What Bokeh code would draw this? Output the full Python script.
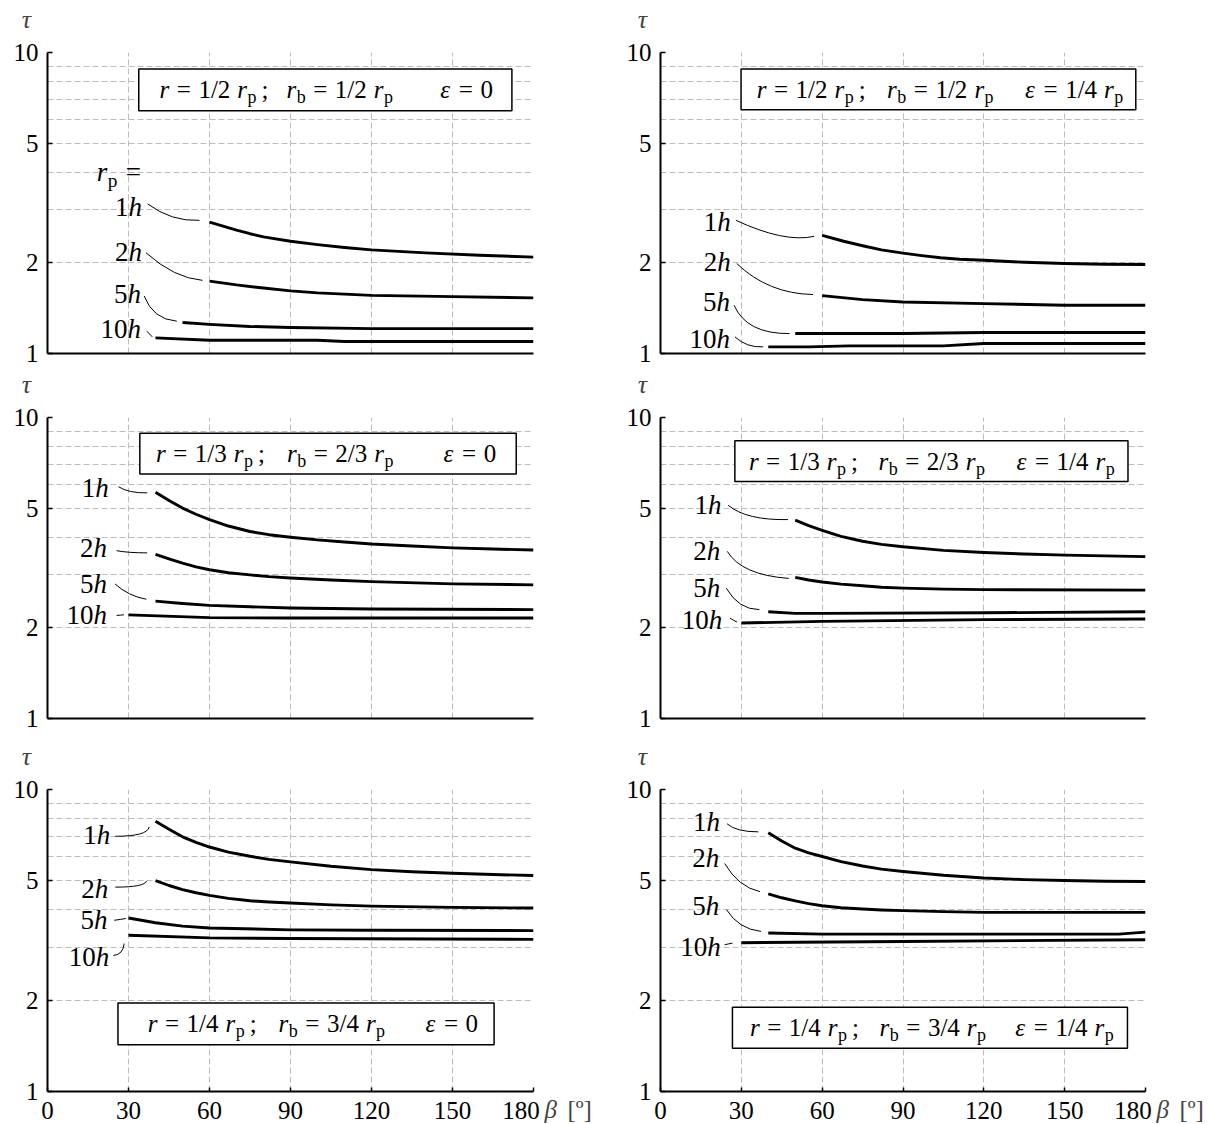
from bokeh.plotting import figure
from bokeh.layouts import column, row
from bokeh.models import Range1d, FixedTicker, NumeralTickFormatter, ColumnDataSource, Label
from bokeh.core.properties import value, field
from bokeh.embed import file_html
from bokeh.resources import INLINE

FONT = "Liberation Serif"

# ---------------------------------------------------------------- data
# tau(beta) for r_p = 1h, 2h, 5h, 10h ; beta in degrees
# r = 1/2 rp ; rb = 1/2 rp ; eps = 0
A_BETA_1H = [60, 65, 70, 75, 80, 90, 100, 110, 120, 140, 160, 180]
A_TAU_1H = [2.73, 2.65, 2.57, 2.50, 2.44, 2.36, 2.30, 2.25, 2.21, 2.16, 2.12, 2.09]
A_BETA_2H = [60, 70, 80, 90, 100, 110, 120, 150, 180]
A_TAU_2H = [1.74, 1.69, 1.65, 1.615, 1.59, 1.575, 1.56, 1.545, 1.53]
A_BETA_5H = [50, 60, 75, 90, 120, 180]
A_TAU_5H = [1.267, 1.25, 1.23, 1.22, 1.21, 1.21]
A_BETA_10H = [40, 60, 100, 110, 180]
A_TAU_10H = [1.127, 1.107, 1.107, 1.096, 1.096]

# r = 1/2 rp ; rb = 1/2 rp ; eps = 1/4 rp
B_BETA_1H = [60, 68, 75, 82, 90, 97, 104, 111, 120, 135, 150, 165, 180]
B_TAU_1H = [2.47, 2.36, 2.28, 2.21, 2.155, 2.115, 2.08, 2.057, 2.04, 2.01, 1.99, 1.98, 1.976]
B_BETA_2H = [60, 75, 90, 120, 150, 180]
B_TAU_2H = [1.557, 1.51, 1.483, 1.465, 1.446, 1.446]
B_BETA_5H = [50, 90, 120, 180]
B_TAU_5H = [1.165, 1.165, 1.174, 1.174]
B_BETA_10H = [40, 55, 70, 105, 120, 180]
B_TAU_10H = [1.052, 1.052, 1.06, 1.06, 1.079, 1.079]

# r = 1/3 rp ; rb = 2/3 rp ; eps = 0
C_BETA_1H = [40, 45, 50, 55, 60, 67, 75, 82, 90, 100, 110, 120, 135, 150, 165, 180]
C_TAU_1H = [5.64, 5.30, 5.0, 4.77, 4.58, 4.36, 4.18, 4.08, 4.0, 3.92, 3.86, 3.80, 3.74, 3.69, 3.655, 3.63]
C_BETA_2H = [40, 45, 50, 55, 60, 67, 75, 82, 90, 105, 120, 150, 180]
C_TAU_2H = [3.51, 3.39, 3.28, 3.19, 3.12, 3.05, 3.0, 2.96, 2.93, 2.885, 2.85, 2.80, 2.78]
C_BETA_5H = [40, 50, 60, 75, 90, 120, 180]
C_TAU_5H = [2.455, 2.41, 2.376, 2.35, 2.33, 2.31, 2.30]
C_BETA_10H = [30, 60, 90, 180]
C_TAU_10H = [2.21, 2.163, 2.157, 2.157]

# r = 1/3 rp ; rb = 2/3 rp ; eps = 1/4 rp
D_BETA_1H = [50, 55, 60, 67, 75, 82, 90, 105, 120, 135, 150, 165, 180]
D_TAU_1H = [4.56, 4.37, 4.22, 4.03, 3.88, 3.79, 3.72, 3.62, 3.56, 3.52, 3.49, 3.47, 3.45]
D_BETA_2H = [50, 55, 60, 67, 75, 82, 90, 105, 120, 180]
D_TAU_2H = [2.945, 2.885, 2.84, 2.795, 2.76, 2.73, 2.71, 2.69, 2.68, 2.67]
D_BETA_5H = [40, 50, 60, 120, 180]
D_TAU_5H = [2.263, 2.235, 2.235, 2.245, 2.263]
D_BETA_10H = [30, 60, 120, 180]
D_TAU_10H = [2.076, 2.102, 2.13, 2.14]

# r = 1/4 rp ; rb = 3/4 rp ; eps = 0
E_BETA_1H = [40, 45, 50, 55, 60, 67, 75, 82, 90, 105, 120, 135, 150, 165, 180]
E_TAU_1H = [7.85, 7.38, 6.97, 6.68, 6.45, 6.20, 6.01, 5.87, 5.76, 5.57, 5.43, 5.34, 5.28, 5.23, 5.19]
E_BETA_2H = [40, 45, 50, 55, 60, 67, 75, 82, 90, 105, 120, 150, 180]
E_TAU_2H = [4.99, 4.81, 4.66, 4.55, 4.46, 4.36, 4.28, 4.24, 4.21, 4.15, 4.11, 4.07, 4.05]
E_BETA_5H = [30, 40, 50, 60, 90, 120, 180]
E_TAU_5H = [3.755, 3.62, 3.53, 3.48, 3.43, 3.42, 3.41]
E_BETA_10H = [30, 60, 90, 180]
E_TAU_10H = [3.29, 3.225, 3.21, 3.19]

# r = 1/4 rp ; rb = 3/4 rp ; eps = 1/4 rp
F_BETA_1H = [40, 45, 50, 55, 60, 67, 75, 82, 90, 105, 120, 135, 150, 165, 180]
F_TAU_1H = [7.19, 6.75, 6.39, 6.17, 6.0, 5.77, 5.58, 5.45, 5.35, 5.2, 5.09, 5.03, 4.995, 4.97, 4.96]
F_BETA_2H = [40, 45, 50, 55, 60, 67, 75, 82, 90, 105, 120, 180]
F_TAU_2H = [4.51, 4.38, 4.28, 4.19, 4.12, 4.06, 4.02, 3.99, 3.97, 3.94, 3.92, 3.92]
F_BETA_5H = [40, 60, 170, 180]
F_TAU_5H = [3.35, 3.32, 3.32, 3.37]
F_BETA_10H = [30, 90, 180]
F_TAU_10H = [3.11, 3.14, 3.18]

CURVE_NAMES = ["1", "2", "5", "10"]
BETA_TICKS = [0, 30, 60, 90, 120, 150, 180]
TAU_TICKS = [1, 2, 5, 10]
TAU_GRID = [2, 3, 4, 5, 6, 7, 8, 9, 10]

# ---------------------------------------------------------------- annotation layout
# labels: (right edge beta, tau); leaders: (x0, y0, x1, y1, cx, cy)
PANELS = [
    dict(curves=[(A_BETA_1H, A_TAU_1H), (A_BETA_2H, A_TAU_2H), (A_BETA_5H, A_TAU_5H), (A_BETA_10H, A_TAU_10H)],
         labels=[(35.0, 3.06), (35.0, 2.17), (34.6, 1.58), (34.6, 1.21)],
         leaders=[(37.1, 3.14, 56.3, 2.77, 46, 2.74), (36.5, 2.16, 57.4, 1.75, 47, 1.78),
                  (35.8, 1.553, 47.9, 1.28, 39, 1.30), (36.8, 1.186, 38.8, 1.136, 37.8, 1.16)],
         rp_label=(34.6, 4.0),
         box=(33.8, 172.0, 6.41, 8.81), groups=(41.5, 88.5, 145.5),
         fr=("1/2", "1/2", "0")),
    dict(curves=[(B_BETA_1H, B_TAU_1H), (B_BETA_2H, B_TAU_2H), (B_BETA_5H, B_TAU_5H), (B_BETA_10H, B_TAU_10H)],
         labels=[(26.1, 2.73), (26.1, 2.01), (25.8, 1.48), (25.8, 1.12)],
         leaders=[(28.0, 2.77, 57.0, 2.45, 46, 2.33), (28.3, 1.99, 56.6, 1.57, 40, 1.58),
                  (27.3, 1.446, 47.9, 1.165, 32, 1.16), (27.6, 1.136, 38.1, 1.052, 32, 1.045)],
         rp_label=None,
         box=(29.9, 176.4, 6.45, 8.81), groups=(35.7, 84.1, 135.3),
         fr=("1/2", "1/2", "1/4")),
    dict(curves=[(C_BETA_1H, C_TAU_1H), (C_BETA_2H, C_TAU_2H), (C_BETA_5H, C_TAU_5H), (C_BETA_10H, C_TAU_10H)],
         labels=[(22.7, 5.85), (22.0, 3.68), (22.0, 2.80), (22.0, 2.20)],
         leaders=[(26.3, 5.89, 36.9, 5.62, 30, 5.6), (25.6, 3.61, 36.9, 3.55, 30, 3.55),
                  (25.0, 2.80, 36.6, 2.49, 30, 2.55), (25.6, 2.20, 28.3, 2.21, 27, 2.205)],
         rp_label=None,
         box=(34.2, 173.6, 6.49, 8.87), groups=(40.2, 88.7, 146.7),
         fr=("1/3", "2/3", "0")),
    dict(curves=[(D_BETA_1H, D_TAU_1H), (D_BETA_2H, D_TAU_2H), (D_BETA_5H, D_TAU_5H), (D_BETA_10H, D_TAU_10H)],
         labels=[(22.6, 5.11), (22.2, 3.59), (22.2, 2.71), (22.9, 2.13)],
         leaders=[(25.1, 5.11, 47.3, 4.58, 32, 4.55), (24.8, 3.59, 47.6, 2.92, 30, 3.0),
                  (24.4, 2.71, 36.7, 2.30, 29, 2.30), (25.8, 2.155, 28.4, 2.09, 27, 2.12)],
         rp_label=None,
         box=(27.6, 173.5, 6.13, 8.37), groups=(32.8, 80.9, 132.1),
         fr=("1/3", "2/3", "1/4")),
    dict(curves=[(E_BETA_1H, E_TAU_1H), (E_BETA_2H, E_TAU_2H), (E_BETA_5H, E_TAU_5H), (E_BETA_10H, E_TAU_10H)],
         labels=[(23.2, 7.09), (22.5, 4.67), (22.2, 3.71), (22.9, 2.79)],
         leaders=[(25.1, 7.0, 37.7, 7.52, 37, 7.0), (25.1, 4.75, 36.7, 4.98, 36, 4.75),
                  (24.7, 3.69, 29.0, 3.74, 27, 3.71), (24.4, 2.82, 28.4, 3.09, 28, 2.84)],
         rp_label=None,
         box=(26.1, 165.4, 1.428, 1.963), groups=(37.1, 85.6, 140.0),
         fr=("1/4", "3/4", "0")),
    dict(curves=[(F_BETA_1H, F_TAU_1H), (F_BETA_2H, F_TAU_2H), (F_BETA_5H, F_TAU_5H), (F_BETA_10H, F_TAU_10H)],
         labels=[(22.1, 7.78), (21.8, 5.92), (21.8, 4.10), (22.4, 3.02)],
         leaders=[(24.7, 7.7, 36.3, 7.24, 28, 7.24), (23.8, 5.69, 36.9, 4.59, 29, 4.75),
                  (24.5, 4.0, 37.3, 3.39, 29, 3.45), (23.8, 3.06, 26.7, 3.10, 25, 3.08)],
         rp_label=None,
         box=(26.7, 173.3, 1.39, 1.90), groups=(33.2, 81.3, 131.7),
         fr=("1/4", "3/4", "1/4")),
]

# advance widths (em) of the serif face
ROMAN_W = {' ': .25, '/': .278, '=': .564, ';': .278, 'p': .5, 'b': .5, 'h': .5, '[': .333, ']': .333}
ITALIC_W = {'r': .389, 'h': .5, 'ε': .44, 'τ': .44, 'β': .5}


def char_w(c, kind):
    if kind == "i":
        return ITALIC_W.get(c, .5)
    return ROMAN_W.get(c, .5)


def run_layout(tokens, size):
    """Place a run of (text, kind) tokens; kind: n roman, i italic, s subscript."""
    out, x, prev = [], 0.0, None
    for text, kind in tokens:
        if prev is not None:
            if kind == "s":
                gap = 0.02
            elif text == "h":
                gap = 0.0
            elif text == "=" or prev == "=":
                gap = 0.3
            elif text == ";":
                gap = 0.2
            else:
                gap = 0.28
            x += gap * size
        fs = size * 0.72 if kind == "s" else size
        dy = 0.30 * size if kind == "s" else 0.0
        out.append((text, "italic" if kind == "i" else "normal", fs, x, dy))
        x += sum(char_w(c, kind) for c in text) * fs
        prev = text
    return out, x


def add_run(rows, x, y, tokens, size, align="left"):
    items, total = run_layout(tokens, size)
    shift = -total if align == "right" else 0.0
    for text, style, fs, dx, dy in items:
        rows["x"].append(x)
        rows["y"].append(y)
        rows["text"].append(text)
        rows["style"].append(style)
        rows["fs"].append(f"{fs:.1f}px")
        rows["dx"].append(dx + shift)
        rows["dy"].append(dy)


def make_panel(spec, col, rowi):
    bottom_row = rowi == 2
    frame_h = 302 if bottom_row else 301
    p = figure(frame_width=486 if col == 0 else 485, frame_height=frame_h,
               x_range=Range1d(0, 180), y_range=Range1d(1, 10), y_axis_type="log",
               output_backend="svg", toolbar_location=None,
               min_border_left=47 if col == 0 else 50, min_border_right=77,
               min_border_top=[52, 48, 52][rowi], min_border_bottom=[16, 19, 33][rowi])
    p.outline_line_color = None
    p.background_fill_color = "white"
    p.border_fill_color = "white"

    for g, ticks in ((p.xgrid, BETA_TICKS[1:]), (p.ygrid, TAU_GRID)):
        g.ticker = FixedTicker(ticks=ticks)
        g.grid_line_color = "#bdbdbd"
        g.grid_line_dash = "6 3"
        g.grid_line_width = 1

    ax = p.xaxis[0]
    ax.axis_line_width = 2
    ax.axis_line_color = "black"
    ax.major_tick_in = 4
    ax.major_tick_out = 0
    ax.major_tick_line_width = 1.5
    ax.minor_tick_line_color = None
    ax.major_label_text_font = FONT
    ax.major_label_text_font_size = "25px"
    ax.major_label_text_color = "black"
    ax.major_label_standoff = 5
    if bottom_row:
        ax.ticker = FixedTicker(ticks=BETA_TICKS, minor_ticks=[])
        # leave room for the unit label right of the last tick
        ax.major_label_overrides = {180: "180\u2003"}
    else:
        ax.ticker = FixedTicker(ticks=[], minor_ticks=[])

    ay = p.yaxis[0]
    ay.ticker = FixedTicker(ticks=TAU_TICKS, minor_ticks=[])
    ay.formatter = NumeralTickFormatter(format="0")
    ay.axis_line_width = 2
    ay.axis_line_color = "black"
    ay.major_tick_in = 5
    ay.major_tick_out = 0
    ay.major_tick_line_width = 1.5
    ay.minor_tick_line_color = None
    ay.major_label_text_font = FONT
    ay.major_label_text_font_size = "25px"
    ay.major_label_text_color = "black"
    ay.major_label_standoff = 9

    # parameter box
    left, right, bot, top = spec["box"]
    p.quad(left=[left], right=[right], bottom=[bot], top=[top],
           fill_color="white", line_color="black", line_width=1.5)

    rows = dict(x=[], y=[], text=[], style=[], fs=[], dx=[], dy=[])
    ymid = (bot * top) ** 0.5
    fr_r, fr_rb, eps = spec["fr"]
    g1 = [("r", "i"), ("=", "n"), (fr_r, "n"), ("r", "i"), ("p", "s"), (";", "n")]
    g2 = [("r", "i"), ("b", "s"), ("=", "n"), (fr_rb, "n"), ("r", "i"), ("p", "s")]
    if eps == "0":
        g3 = [("ε", "i"), ("=", "n"), ("0", "n")]
    else:
        g3 = [("ε", "i"), ("=", "n"), (eps, "n"), ("r", "i"), ("p", "s")]
    for gx, toks in zip(spec["groups"], (g1, g2, g3)):
        add_run(rows, gx, ymid, toks, 25)

    # curve names
    for name, (lx, ly) in zip(CURVE_NAMES, spec["labels"]):
        add_run(rows, lx, ly, [(name, "n"), ("h", "i")], 27, align="right")
    if spec["rp_label"] is not None:
        rx, ry = spec["rp_label"]
        add_run(rows, rx, ry, [("r", "i"), ("p", "s"), ("=", "n")], 27, align="right")

    # leaders from names to curves
    ld = spec["leaders"]
    p.quadratic(x0=[l[0] for l in ld], y0=[l[1] for l in ld], x1=[l[2] for l in ld],
                y1=[l[3] for l in ld], cx=[l[4] for l in ld], cy=[l[5] for l in ld],
                line_color="black", line_width=1.0)

    for beta, tau in spec["curves"]:
        p.line(beta, tau, line_color="black", line_width=2.9, line_join="round", line_cap="butt")

    src = ColumnDataSource(rows)
    p.text(x="x", y="y", text="text", source=src, text_font=value(FONT),
           text_font_size=field("fs"), text_font_style=field("style"),
           x_offset=field("dx"), y_offset=field("dy"),
           text_align="left", text_baseline="middle", text_color="black")

    # axis titles, kept in side panels so that they are not clipped to the frame
    p.add_layout(Label(x=0, y=10, x_offset=-18 if col else -21, y_offset=33, text="τ",
                       text_font=FONT, text_font_size="26px", text_font_style="italic",
                       text_align="center", text_baseline="middle"), "above")
    if bottom_row:
        p.add_layout(Label(x=180, y=1, x_offset=11, y_offset=-18, text="β", text_font=FONT,
                           text_font_size="25px", text_font_style="italic",
                           text_align="left", text_baseline="middle"), "right")
        p.add_layout(Label(x=180, y=1, x_offset=34, y_offset=-18, text="[º]", text_font=FONT,
                           text_font_size="25px", text_align="left",
                           text_baseline="middle"), "right")
    return p


figs = [make_panel(PANELS[i], i % 2, i // 2) for i in range(6)]
layout = column(row(figs[0], figs[1]), row(figs[2], figs[3]), row(figs[4], figs[5]))

open("out.html", "w").write(file_html(layout, INLINE))
